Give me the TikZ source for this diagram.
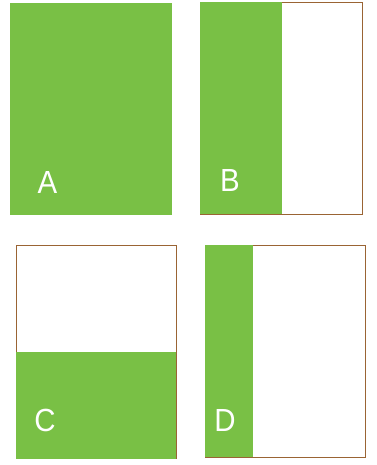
\documentclass[tikz,border=0pt]{standalone}
\usepackage{fontspec}
\setmainfont{Liberation Sans}
\definecolor{leaf}{HTML}{79C045}
\definecolor{edge}{HTML}{9A6434}
\tikzset{
  frame/.style={draw=edge, line width=1pt, fill=white},
  greenfill/.style={fill=leaf, draw=none},
  letter/.style={text=white, anchor=base, inner sep=0pt, font=\fontsize{32}{32}\selectfont, xscale=0.92, transform shape}
}
\begin{document}
\begin{tikzpicture}[x=1pt,y=-1pt]
\useasboundingbox (0,0) rectangle (376,465);
% A
\fill[leaf] (10,3) rectangle (172,215);
\node[letter] (la) at (47.5,193) {A};
% B
\draw[frame] (200.5,2.5) rectangle (362,214);
\fill[leaf] (200,2) rectangle (282,214);
\node[letter] (lb) at (230,191) {B};
% C
\draw[frame] (16.5,245.5) rectangle (176,458);
\fill[leaf] (16,352) rectangle (176,458.5);
\node[letter] (lc) at (45,431) {C};
% D
\draw[frame] (205.5,245.5) rectangle (365,457);
\fill[leaf] (205,245) rectangle (253,457);
\node[letter] (ld) at (225,431) {D};
\end{tikzpicture}
\end{document}
